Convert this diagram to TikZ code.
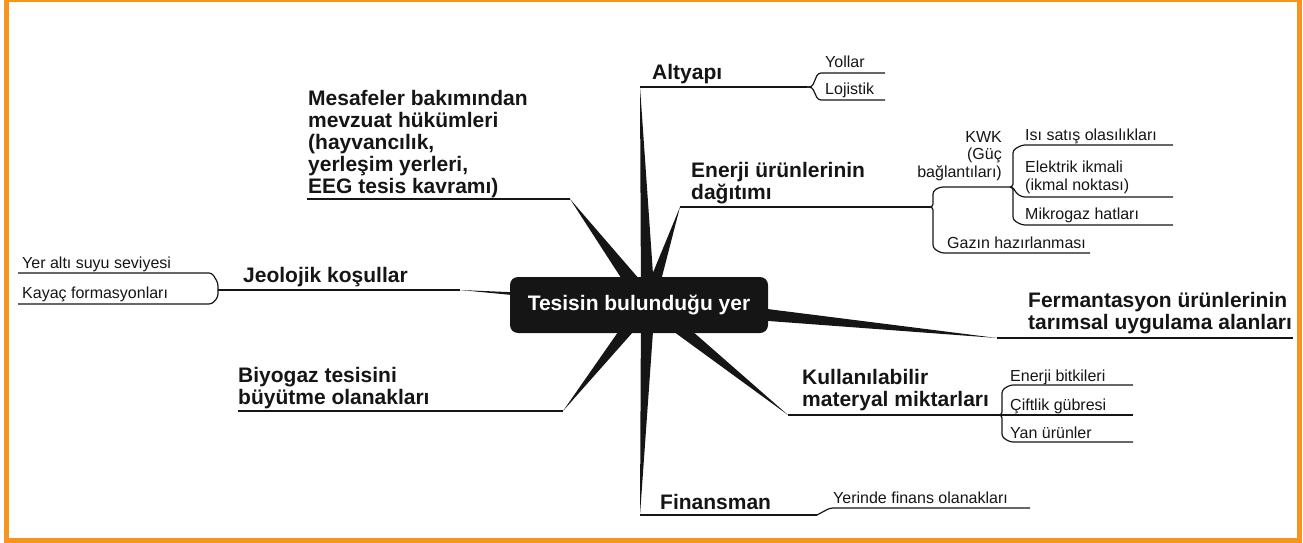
\documentclass[tikz,border=0pt]{standalone}
\usepackage{fontspec}
\setmainfont{Liberation Sans}
\usetikzlibrary{calc}
\definecolor{frameorange}{HTML}{F7941D}
\definecolor{ink}{HTML}{151515}
\newcommand\spoke[3]{\fill[ink] (#2) -- ($(#1)!#3!90:(#2)$) -- ($(#1)!#3!-90:(#2)$) -- cycle;}
\begin{document}
\begin{tikzpicture}[x=1pt,y=-1pt,
  main/.style={anchor=base west,inner sep=0pt,align=left,font=\fontsize{21}{22}\selectfont\bfseries,text=ink},
  sub/.style={anchor=base west,inner sep=0pt,align=left,font=\fontsize{16}{17.5}\selectfont,text=ink},
  mline/.style={line width=1.8pt,draw=ink,line join=round},
  sline/.style={line width=1.2pt,draw=ink,rounded corners=3pt},
  hubbox/.style={fill=ink,rounded corners=8pt,minimum width=258pt,minimum height=56pt,inner sep=0pt,text=white,font=\fontsize{21}{22}\selectfont\bfseries}
]
\useasboundingbox (0,0) rectangle (1303,543);
\draw[frameorange,line width=5pt] (6,0) rectangle (1299,540);

% coordinates
\coordinate (hub) at (648,303);
\coordinate (tA) at (640,87);
\coordinate (tE) at (680,207);
\coordinate (tM) at (570,199);
\coordinate (tJ) at (460,290);
\coordinate (tB) at (563,411);
\coordinate (tK) at (788,415);
\coordinate (tF) at (997,338);
\coordinate (tN) at (640,515);

\coordinate (fA) at (807,87);
\coordinate (cYol) at (885,73);
\coordinate (cLoj) at (885,100);
\coordinate (fE) at (930,207);
\coordinate (fK) at (1010,187);
\coordinate (cIsi) at (1173,145);
\coordinate (cElk) at (1173,197);
\coordinate (cMik) at (1173,225);
\coordinate (cGaz) at (1090,253);
\coordinate (cMes) at (307,199);
\coordinate (fJ) at (218,290);
\coordinate (cYer) at (18,273);
\coordinate (cKay) at (18,304);
\coordinate (cBiy) at (238,411);
\coordinate (fKu) at (1000,415);
\coordinate (cEnb) at (1133,385);
\coordinate (cCif) at (1133,415);
\coordinate (cYan) at (1133,442);
\coordinate (cFer) at (1293,338);
\coordinate (fN) at (817,515);
\coordinate (cFin) at (1030,508);

% spokes
\spoke{hub}{tA}{7pt}
\spoke{hub}{tE}{7pt}
\spoke{hub}{tM}{9pt}
\spoke{hub}{tJ}{5pt}
\spoke{hub}{tB}{8pt}
\spoke{hub}{tK}{8pt}
\spoke{hub}{tF}{9pt}
\spoke{hub}{tN}{7pt}

% main lines
\draw[mline] (tA) -- (fA);
\draw[mline] (tE) -- (fE);
\draw[mline] (tM) -- (cMes);
\draw[mline] (tJ) -- (fJ);
\draw[mline] (tB) -- (cBiy);
\draw[mline] (tK) -- (fKu);
\draw[mline] (tF) -- (cFer);
\draw[mline] (tN) -- (fN);

% sub lines
\draw[sline] (fA) -- (812,87) -- (818,73) -- (cYol);
\draw[sline] (fA) -- (812,87) -- (818,100) -- (cLoj);
\draw[sline] (fE) -- (933,207) -- (933,191) -- (940,187) -- (fK);
\draw[sline] (fE) -- (933,207) -- (933,248) -- (941,253) -- (cGaz);
\draw[sline] (fK) -- (1013,187) -- (1013,150) -- (1022,145) -- (cIsi);
\draw[sline] (fK) -- (1013,187) -- (1016,193) -- (1022,197) -- (cElk);
\draw[sline] (fK) -- (1013,187) -- (1013,220) -- (1022,225) -- (cMik);
\draw[sline] (fJ) -- (218,283) -- (212,273) -- (cYer);
\draw[sline] (fJ) -- (218,297) -- (212,304) -- (cKay);
\draw[sline] (fKu) -- (1002,415) -- (1002,390) -- (1010,385) -- (cEnb);
\draw[sline] (fKu) -- (cCif);
\draw[sline] (fKu) -- (1002,415) -- (1002,437) -- (1010,442) -- (cYan);
\draw[sline] (fN) -- (830,508) -- (cFin);

% hub node
\node[hubbox] (center) at (639,305) {Tesisin bulunduğu yer};

% main labels (base = baseline of last line)
\node[main] (nA) at (652,79) {Altyapı};
\node[main] (nE) at (691,199) {Enerji ürünlerinin\\dağıtımı};
\node[main] (nM) at (308,193) {Mesafeler bakımından\\mevzuat hükümleri\\(hayvancılık,\\yerleşim yerleri,\\EEG tesis kavramı)};
\node[main] (nJ) at (243,282) {Jeolojik koşullar};
\node[main] (nB) at (238,404) {Biyogaz tesisini\\büyütme olanakları};
\node[main] (nK) at (802,406) {Kullanılabilir\\materyal miktarları};
\node[main] (nF) at (1028,329) {Fermantasyon ürünlerinin\\tarımsal uygulama alanları};
\node[main] (nN) at (660,509) {Finansman};

% sub labels
\node[sub] (sYol) at (825,67) {Yollar};
\node[sub] (sLoj) at (825,94) {Lojistik};
\node[sub,anchor=base east,align=right] (sKWK) at (1002,177) {KWK\\(Güç\\bağlantıları)};
\node[sub] (sIsi) at (1025,140) {Isı satış olasılıkları};
\node[sub] (sElk) at (1025,190) {Elektrik ikmali\\(ikmal noktası)};
\node[sub] (sMik) at (1025,219) {Mikrogaz hatları};
\node[sub] (sGaz) at (947,248) {Gazın hazırlanması};
\node[sub] (sYer) at (22,268) {Yer altı suyu seviyesi};
\node[sub] (sKay) at (22,298) {Kayaç formasyonları};
\node[sub] (sEnb) at (1010,381) {Enerji bitkileri};
\node[sub] (sCif) at (1010,410) {Çiftlik gübresi};
\node[sub] (sYan) at (1010,438) {Yan ürünler};
\node[sub] (sFin) at (833,503) {Yerinde finans olanakları};
\end{tikzpicture}
\end{document}
